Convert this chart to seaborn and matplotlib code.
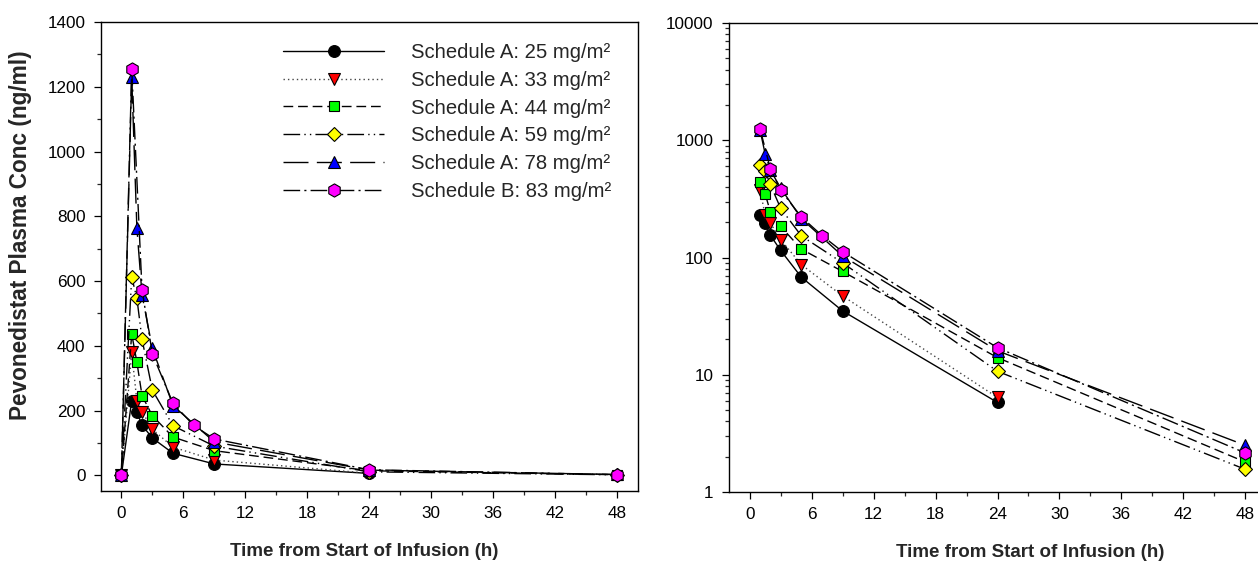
import matplotlib
matplotlib.use("Agg")
import matplotlib.pyplot as plt
import numpy as np
import pandas as pd
import seaborn as sns
from matplotlib.ticker import MultipleLocator, LogLocator, FuncFormatter, NullFormatter

# ---- data ----
time_a = [0, 1, 1.5, 2, 3, 5, 9, 24, 48]   # Schedule A sampling times (h)
time_b = [0, 1, 2, 3, 5, 7, 9, 24, 48]     # Schedule B sampling times (h)

labels = ["Schedule A: 25 mg/m\u00b2", "Schedule A: 33 mg/m\u00b2", "Schedule A: 44 mg/m\u00b2",
          "Schedule A: 59 mg/m\u00b2", "Schedule A: 78 mg/m\u00b2", "Schedule B: 83 mg/m\u00b2"]

conc_25 = [0, 230, 195, 155, 115, 68, 35, 5.8]
conc_33 = [0, 380, 230, 197, 142, 87, 47, 6.4]
conc_44 = [0, 437, 350, 246, 184, 118, 76, 14, 1.8]
conc_59 = [0, 612, 547, 420, 263, 153, 90, 10.7, 1.56]
conc_78 = [0, 1230, 765, 557, 392, 215, 103, 16, 2.5]
conc_83 = [0, 1255, 573, 375, 222, 154, 112, 17, 2.15]

series_times = [time_a[:8], time_a[:8], time_a, time_a, time_a, time_b]
series_conc = [conc_25, conc_33, conc_44, conc_59, conc_78, conc_83]

# ---- styles ----
markers = ["o", "v", "s", "D", "^", "h"]
msizes = [8.5, 8.8, 7.3, 7, 8.8, 9.5]
faces = ["black", "#ff0000", "#00ff00", "#ffff00", "#0000ff", "#ff00ff"]
lstyles = ["-", (0, (1, 2.2)), (0, (7, 3.5)), (0, (12, 3, 1, 3, 1, 3)),
           (0, (18, 6)), (0, (12, 3, 1.5, 3))]
lcolors = ["black", "#444444", "black", "black", "black", "black"]

sns.set_style("ticks")
plt.rcParams["font.family"] = ["Liberation Sans", "DejaVu Sans"]

W, H = 1258, 563
fig = plt.figure(figsize=(W / 100, H / 100), dpi=100)
ax1 = fig.add_axes([100.7 / W, 1 - 491 / H, (638 - 100.7) / W, (491 - 22) / H])
ax2 = fig.add_axes([729 / W, 1 - 492 / H, (1266 - 729) / W, (492 - 23) / H])

for i in range(6):
    df = pd.DataFrame({"t": series_times[i], "c": series_conc[i]})
    common = dict(x="t", y="c", color=lcolors[i], lw=1.0, linestyle=lstyles[i],
                  marker=markers[i], ms=msizes[i], markerfacecolor=faces[i],
                  markeredgecolor="black", markeredgewidth=0.8,
                  errorbar=None, sort=False)
    sns.lineplot(data=df, ax=ax1, label=labels[i], **common)
    sns.lineplot(data=df[df["c"] > 0], ax=ax2, legend=False, **common)

# ---- left axis ----
ax1.set_xlim(-2, 50)
ax1.set_ylim(-48.5, 1400)
ax1.xaxis.set_major_locator(MultipleLocator(6))
ax1.xaxis.set_minor_locator(MultipleLocator(3))
ax1.yaxis.set_major_locator(MultipleLocator(200))
ax1.yaxis.set_minor_locator(MultipleLocator(100))

# ---- right axis ----
ax2.set_yscale("log")
ax2.set_xlim(-2, 50)
ax2.set_ylim(1, 10000)
ax2.xaxis.set_major_locator(MultipleLocator(6))
ax2.xaxis.set_minor_locator(MultipleLocator(3))
ax2.yaxis.set_major_locator(LogLocator(base=10, numticks=10))
ax2.yaxis.set_minor_locator(LogLocator(base=10, subs=np.arange(2, 10), numticks=20))
ax2.yaxis.set_major_formatter(FuncFormatter(lambda v, p: f"{v:g}"))
ax2.yaxis.set_minor_formatter(NullFormatter())

for ax in (ax1, ax2):
    for sp in ax.spines.values():
        sp.set_visible(True)
        sp.set_linewidth(1.0)
        sp.set_color("black")
    ax.tick_params(which="major", direction="out", length=5, width=0.9,
                   pad=6, labelsize=12.3, colors="black")
    ax.tick_params(which="minor", direction="out", length=3, width=0.9)
    ax.tick_params(top=False, right=False, which="both")
    ax.set_xlabel("Time from Start of Infusion (h)", fontsize=13.5, fontweight="bold")
    ax.grid(False)

ax1.set_ylabel("Pevonedistat Plasma Conc (ng/ml)", fontsize=16.3, fontweight="bold")
ax2.set_ylabel("")
ax1.xaxis.set_label_coords(0.491, -0.111)
ax2.xaxis.set_label_coords(0.56, -0.111)
ax1.yaxis.set_label_coords(-0.128, 0.546)

ax1.legend(loc="upper left", bbox_to_anchor=(0.339, 0.955), frameon=False,
           fontsize=14.6, handlelength=5.0, handletextpad=1.3, labelspacing=0.43,
           borderpad=0, borderaxespad=0, numpoints=1)

fig.savefig("out.png", dpi=100)
